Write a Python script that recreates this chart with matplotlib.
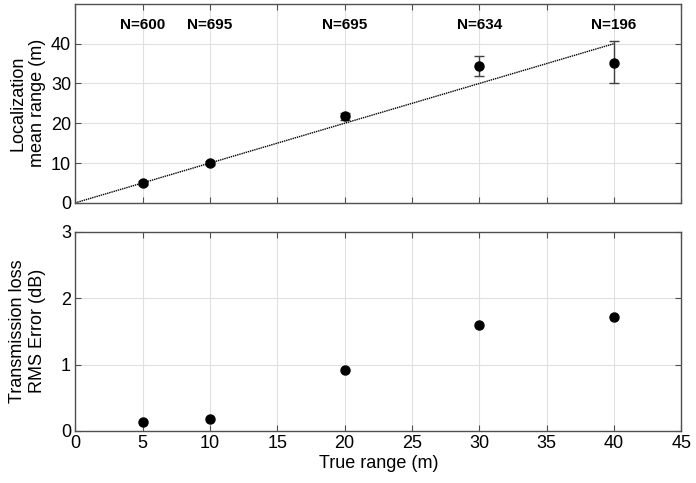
import matplotlib
matplotlib.use("Agg")
import matplotlib.pyplot as plt
import numpy as np

plt.rcParams['font.family'] = ['Liberation Sans', 'DejaVu Sans']

true_range = [5, 10, 20, 30, 40]
loc_mean = [5.0, 10.0, 21.8, 34.3, 35.2]
loc_err_low = [0.4, 0.4, 0.9, 2.5, 5.2]
loc_err_high = [0.4, 0.4, 0.9, 2.5, 5.5]
n_labels = ["N=600", "N=695", "N=695", "N=634", "N=196"]
tl_rms = [0.14, 0.18, 0.91, 1.59, 1.71]
ref_line_x = [0, 40]
ref_line_y = [0, 40]

fig = plt.figure(figsize=(6.96, 4.83), dpi=100)
ax1 = fig.add_axes([0.108, 0.580, 0.871, 0.412])
ax2 = fig.add_axes([0.108, 0.108, 0.871, 0.412])

spine_col = '#505050'
grid_col = '#e0e0e0'
for ax in (ax1, ax2):
    ax.set_xlim(0, 45)
    ax.set_xticks(np.arange(0, 46, 5))
    ax.grid(True, color=grid_col, linewidth=0.8)
    ax.set_axisbelow(True)
    for s in ax.spines.values():
        s.set_color(spine_col)
        s.set_linewidth(1.0)
    ax.tick_params(direction='in', top=True, right=True, length=4, color=spine_col,
                   labelsize=13, labelcolor='black', pad=3)

ax1.plot(ref_line_x, ref_line_y, color='black', linestyle=(0, (1, 0.6)), linewidth=1.0)
ax1.errorbar(true_range, loc_mean, yerr=[loc_err_low, loc_err_high], fmt='o',
             color='black', markersize=6.5, ecolor='#404040', elinewidth=1.0, capsize=3.5)
for x, t in zip(true_range, n_labels):
    ax1.text(x, 44.8, t, ha='center', va='center', fontsize=11, fontweight='bold')
ax1.set_ylim(0, 50)
ax1.set_yticks([0, 10, 20, 30, 40])
ax1.set_xticklabels([])
ax1.set_ylabel("Localization\nmean range (m)", fontsize=13)
ax1.yaxis.set_label_coords(-0.048, 0.5)

ax2.plot(true_range, tl_rms, 'o', color='black', markersize=6.5)
ax2.set_ylim(0, 3)
ax2.set_yticks([0, 1, 2, 3])
ax2.set_ylabel("Transmission loss\nRMS Error (dB)", fontsize=13)
ax2.yaxis.set_label_coords(-0.048, 0.5)
ax2.set_xlabel("True range (m)", fontsize=13, labelpad=2)

fig.savefig("out.png", dpi=100)
